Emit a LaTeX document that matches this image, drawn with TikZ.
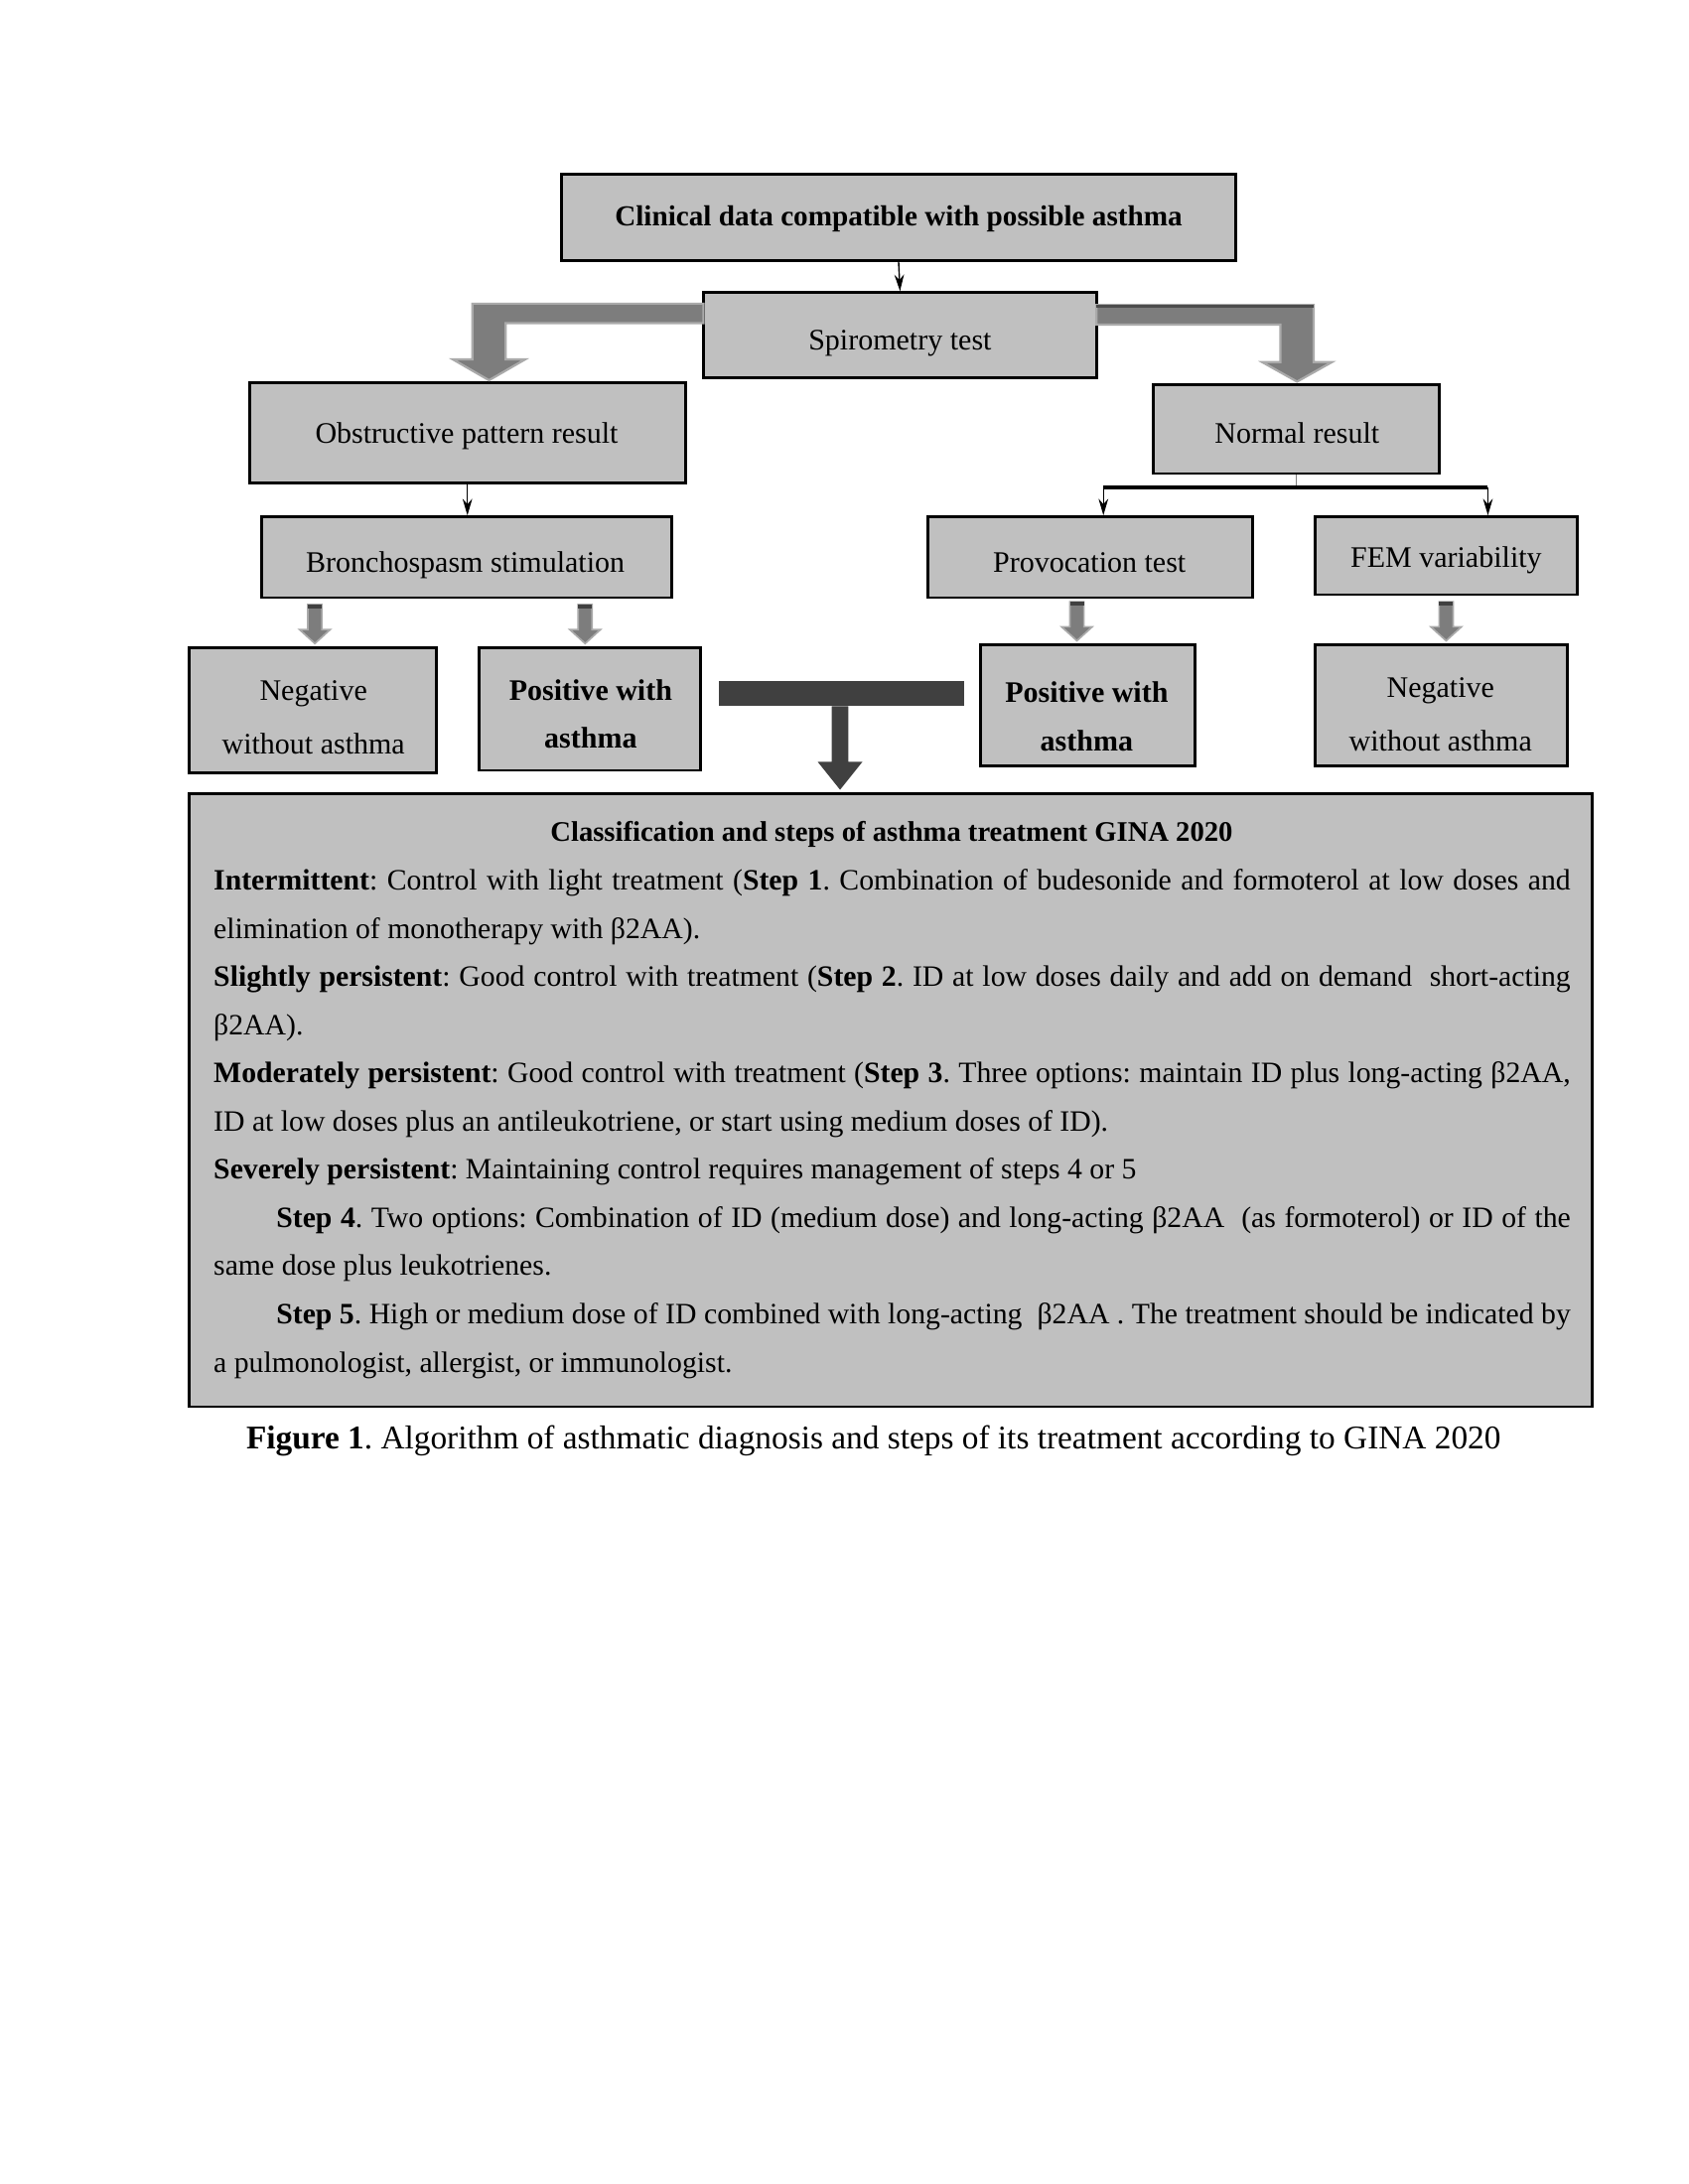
\documentclass[tikz,border=0pt]{standalone}
\usepackage{fontspec}
\setmainfont{Liberation Serif}
\usetikzlibrary{fit,arrows.meta}
\definecolor{boxgray}{RGB}{192,192,192}
\definecolor{arrgray}{RGB}{125,125,125}
\definecolor{arredge}{RGB}{170,170,170}
\definecolor{darkbar}{RGB}{64,64,64}
\newcommand{\blkarrow}[3]{%
  \fill[arrgray,draw=arredge,line width=0.6pt] (#1-5,#2) -- (#1+5,#2) -- (#1+5,#3-10) -- (#1+11,#3-10) -- (#1,#3) -- (#1-11,#3-10) -- (#1-5,#3-10) -- cycle;
  \fill[black!75] (#1-5,#2) rectangle (#1+5,#2+3);}
\newcommand{\fullline}[1]{\makebox[491.8pt][s]{#1}}
\newcommand{\indline}[1]{\makebox[469.1pt][s]{#1}}
\frenchspacing
\begin{document}
\begin{tikzpicture}[x=0.50495pt,y=-0.50495pt,
  box/.style={draw=black,line width=1pt,fill=boxgray,inner sep=0pt},
  lbl/.style={anchor=base,inner sep=0pt,font=\fontsize{10.8}{13}\selectfont},
  blbl/.style={lbl,font=\bfseries\fontsize{10.8}{13}\selectfont},
  conn/.style={-{Stealth[length=6pt,width=3.5pt]},line width=0.5pt},
  bodytxt/.style={anchor=base west,inner sep=0pt,font=\fontsize{10.7}{13}\selectfont}]
\useasboundingbox (0,0) rectangle (1212,1568);
\fill[white] (0,0) rectangle (1212,1568);

% boxes
\node[box,fit={(403,125)(887,187)}] (clin) {};
\node[box,fit={(505,210)(787,271)}] (spiro) {};
\node[box,fit={(179,275)(492,347)}] (obst) {};
\node[box,fit={(828,276)(1033,340)}] (norm) {};
\node[box,fit={(188,371)(482,429)}] (bron) {};
\node[box,fit={(666,371)(899,429)}] (prov) {};
\node[box,fit={(944,371)(1132,427)}] (fem) {};
\node[box,fit={(136,465)(313,555)}] (negl) {};
\node[box,fit={(344,465)(503,553)}] (posl) {};
\node[box,fit={(704,463)(858,550)}] (posr) {};
\node[box,fit={(944,463)(1125,550)}] (negr) {};
\node[box,fit={(136,570)(1143,1010)}] (gina) {};

% box labels
\node[blbl,font=\bfseries\fontsize{10.5}{13}\selectfont] (clinT) at (645,162) {Clinical data compatible with possible asthma};
\node[lbl] (spiroT) at (646,251) {Spirometry test};
\node[lbl] (obstT) at (335,318) {Obstructive pattern result};
\node[lbl] (normT) at (931,318) {Normal result};
\node[lbl] (bronT) at (334,411) {Bronchospasm stimulation};
\node[lbl] (provT) at (782,411) {Provocation test};
\node[lbl] (femT) at (1038,407) {FEM variability};
\node[lbl] (neglA) at (225,503) {Negative};
\node[lbl] (neglB) at (225,541) {without asthma};
\node[blbl] (poslA) at (424,503) {Positive with};
\node[blbl] (poslB) at (424,537) {asthma};
\node[blbl] (posrA) at (780,504) {Positive with};
\node[blbl] (posrB) at (780,539) {asthma};
\node[lbl] (negrA) at (1034,501) {Negative};
\node[lbl] (negrB) at (1034,539) {without asthma};

% thin connectors
\draw[conn] (clin.south) -- (spiro.north);
\draw[conn] (obst.south) -- (obst.south |- bron.north);
\coordinate (pl) at (792,350);
\coordinate (pr) at (1068,350);
\draw[gray,line width=0.6pt] (norm.south) -- (norm.south |- pl);
\draw[line width=1.2pt] (pl) -- (pr);
\draw[conn] (pl) -- (pl |- prov.north);
\draw[conn] (pr) -- (pr |- fem.north);

% thick gray L arrows
\fill[arrgray,draw=arredge,line width=0.8pt] (505,218) -- (339,218) -- (339,258) -- (325,258) -- (351,273) -- (377,258) -- (363,258) -- (363,232) -- (505,232) -- cycle;
\fill[arrgray,draw=arredge,line width=0.8pt] (787,219) -- (943,219) -- (943,260) -- (956,260) -- (931,274) -- (906,260) -- (919,260) -- (919,233) -- (787,233) -- cycle;
\draw[black!70,line width=1.2pt] (787,220) -- (943,220);

% small block arrows
\blkarrow{226}{434}{462}
\blkarrow{420}{434}{462}
\blkarrow{773}{432}{460}
\blkarrow{1038}{432}{460}

% dark T arrow
\fill[darkbar] (516,489) rectangle (692,507);
\fill[darkbar] (597,507) -- (597,547) -- (587,547) -- (603,567) -- (619,547) -- (609,547) -- (609,507) -- cycle;

% GINA text
\node[anchor=base,inner sep=0pt,font=\bfseries\fontsize{10.3}{13}\selectfont] (t0) at (640,604) {Classification and steps of asthma treatment GINA 2020};
\node[bodytxt] (t1) at (153,639) {\fullline{\textbf{Intermittent}: Control with light treatment (\textbf{Step 1}. Combination of budesonide and formoterol at low doses and}};
\node[bodytxt] (t2) at (153,673.6) {elimination of monotherapy with β2AA).};
\node[bodytxt] (t3) at (153,708.2) {\fullline{\textbf{Slightly persistent}: Good control with treatment (\textbf{Step 2}. ID at low doses daily and add on demand \ short-acting}};
\node[bodytxt] (t4) at (153,742.8) {β2AA).};
\node[bodytxt] (t5) at (153,777.4) {\fullline{\textbf{Moderately persistent}: Good control with treatment (\textbf{Step 3}. Three options: maintain ID plus long-acting β2AA,}};
\node[bodytxt] (t6) at (153,812) {ID at low doses plus an antileukotriene, or start using medium doses of ID).};
\node[bodytxt] (t7) at (153,846.6) {\textbf{Severely persistent}: Maintaining control requires management of steps 4 or 5};
\node[bodytxt] (t8) at (198,881.2) {\indline{\textbf{Step 4}. Two options: Combination of ID (medium dose) and long-acting β2AA \ (as formoterol) or ID of the}};
\node[bodytxt] (t9) at (153,915.8) {same dose plus leukotrienes.};
\node[bodytxt] (t10) at (198,950.4) {\indline{\textbf{Step 5}. High or medium dose of ID combined with long-acting \ β2AA . The treatment should be indicated by}};
\node[bodytxt] (t11) at (153,985) {a pulmonologist, allergist, or immunologist.};

% caption
\node[anchor=base,inner sep=0pt,font=\fontsize{12}{14}\selectfont] (cap) at (627,1040) {\textbf{Figure 1}. Algorithm of asthmatic diagnosis and steps of its treatment according to GINA 2020};
\end{tikzpicture}
\end{document}
